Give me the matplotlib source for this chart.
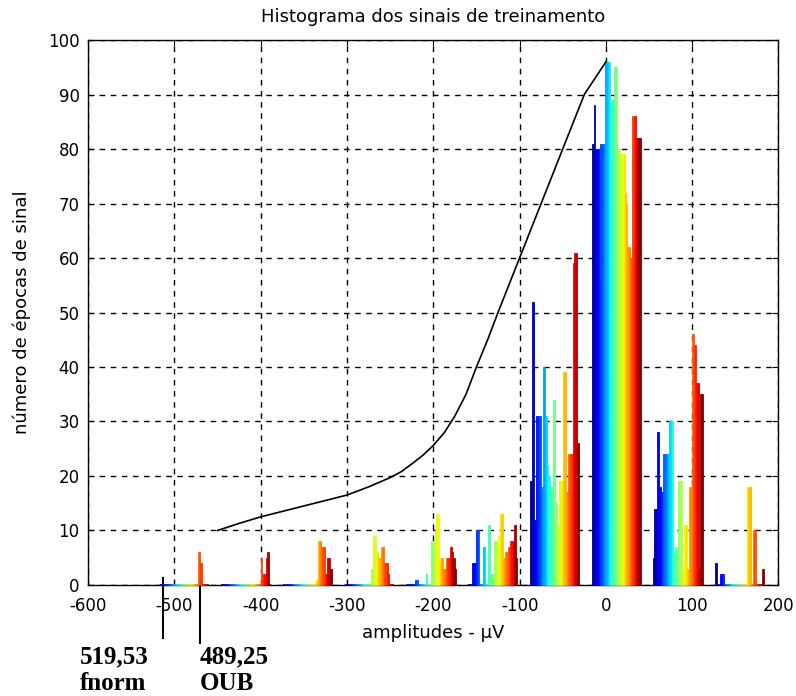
"""
Histograma dos sinais de treinamento
"""

import numpy as np
import matplotlib.pyplot as plt

# Bin centres (uV) of the grouped histogram
bin_centers = [-488.5, -417, -345.5, -274, -202.5, -131, -59.5, 12, 83.5, 155]

# Counts per signal (40 signals, jet colours) in each bin
h_m488 = [0, 0, 0, 0, 0, 0, 0, 0, 0, 0, 0, 0, 0, 0, 0, 0, 0, 0, 0, 0,
          0, 0, 0, 0, 0, 0, 0, 0, 0, 0, 0, 6, 6, 4, 0, 0, 0, 0, 0, 0]
h_m417 = [0, 0, 0, 0, 0, 0, 0, 0, 0, 0, 0, 0, 0, 0, 0, 0, 0, 0, 0, 0,
          0, 0, 0, 0, 0, 0, 0, 0, 0, 0, 0, 0, 5, 2, 2, 2, 5, 6, 6, 0]
h_m345 = [0, 0, 0, 0, 0, 0, 0, 0, 0, 0, 0, 0, 0, 0, 0, 0, 0, 0, 0, 0,
          0, 0, 0, 0, 0, 0, 0, 1, 8, 8, 8, 7, 7, 7, 2, 2, 5, 5, 3, 3]
h_m274 = [0, 0, 0, 0, 0, 0, 0, 0, 0, 0, 0, 0, 0, 0, 0, 0, 0, 0, 0, 0,
          0, 3, 3, 9, 9, 6, 6, 5, 5, 7, 7, 7, 4, 4, 4, 2, 0, 0, 0, 0]
h_m202 = [0, 0, 0, 0, 0, 0, 0, 1, 1, 0, 0, 0, 0, 0, 0, 0, 2, 0, 0, 0,
          8, 8, 6, 10, 13, 13, 5, 4, 5, 5, 3, 3, 5, 5, 5, 7, 7, 6, 5, 3]
h_m131 = [0, 0, 0, 4, 4, 4, 10, 10, 10, 0, 0, 0, 7, 7, 0, 0, 11, 11, 2, 2,
          2, 8, 8, 8, 9, 9, 13, 13, 5, 5, 6, 6, 7, 7, 8, 8, 8, 11, 11, 5]
h_m60 = [19, 19, 52, 12, 12, 31, 31, 31, 31, 18, 18, 40, 31, 31, 22, 20, 18, 18, 18, 34,
         15, 15, 11, 9, 19, 19, 19, 39, 39, 17, 17, 24, 24, 24, 24, 59, 61, 61, 26, 26]
h_12 = [81, 81, 88, 80, 80, 80, 56, 81, 81, 81, 81, 96, 96, 96, 96, 89, 89, 89, 95, 95,
        95, 80, 80, 79, 79, 79, 79, 72, 70, 62, 62, 60, 60, 86, 86, 86, 82, 82, 82, 82]
h_83 = [5, 14, 14, 28, 28, 18, 17, 17, 24, 24, 24, 24, 18, 30, 30, 30, 6, 6, 7, 7,
        19, 19, 19, 3, 3, 11, 11, 3, 3, 18, 18, 46, 46, 44, 44, 37, 37, 3, 35, 35]
h_155 = [4, 4, 0, 0, 2, 2, 2, 0, 0, 0, 0, 0, 0, 0, 0, 0, 0, 0, 0, 0,
         0, 0, 0, 0, 0, 0, 18, 18, 18, 0, 0, 10, 10, 0, 0, 0, 0, 0, 3, 3]
counts = [h_m488, h_m417, h_m345, h_m274, h_m202, h_m131, h_m60, h_12, h_83, h_155]

# Black curve
curve_x = [-450, -425, -400, -375, -350, -325, -300, -275, -250, -237, -225, -212,
           -200, -187, -175, -162, -150, -137, -125, -100, -75, -50, -25, 0]
curve_y = [10, 11.3, 12.5, 13.5, 14.5, 15.5, 16.5, 18, 19.7, 20.8, 22.2, 23.8,
           25.6, 28, 31, 35, 40, 45, 50, 60, 70, 80, 90, 96]

plt.rcParams['font.family'] = ['DejaVu Sans']
plt.rcParams['axes.unicode_minus'] = False

fig = plt.figure(figsize=(7.96, 6.96), dpi=100)
ax = fig.add_axes([0.1106, 0.1595, 0.8674, 0.783])

n_series = len(h_12)
spacing = bin_centers[1] - bin_centers[0]
bar_w = 0.8 * spacing / n_series
colors = plt.get_cmap('jet')(np.linspace(0, 1, n_series))
offsets = (np.arange(n_series) - (n_series - 1) / 2) * bar_w

for c, h in zip(bin_centers, counts):
    x = c + offsets
    ax.bar(x, h, width=bar_w, color=colors, edgecolor=colors,
           linewidth=0.6, zorder=3)
    # zero-height bars still show as a coloured stroke on the baseline
    ax.hlines(np.zeros(n_series), x - bar_w / 2, x + bar_w / 2, colors=colors,
              linewidth=1.2, zorder=4, clip_on=False)

ax.plot(curve_x, curve_y, color='black', linewidth=1.2, zorder=5)

ax.set_xlim(-600, 200)
ax.set_ylim(0, 100)
ax.set_xticks(range(-600, 201, 100))
ax.set_yticks(range(0, 101, 10))
ax.tick_params(direction='in', top=True, right=True, labelsize=12, length=4)
ax.tick_params(axis='x', pad=9)
ax.tick_params(axis='y', pad=6)
ax.grid(True, color='black', linestyle=(0, (4, 4)), linewidth=1.0)
ax.set_axisbelow(True)
for s in ax.spines.values():
    s.set_linewidth(1.0)

ax.set_title('Histograma dos sinais de treinamento', fontsize=13, pad=13)
ax.set_xlabel('amplitudes - µV', fontsize=13, labelpad=6)
ax.set_ylabel('número de épocas de sinal', fontsize=13, labelpad=12)

# Marks for the two detection thresholds below the axis
ax.plot([-513, -513], [1.3, -9.7], color='black', linewidth=1.5, clip_on=False)
ax.plot([-470, -470], [0.9, -10.6], color='black', linewidth=1.5, clip_on=False)

serif = dict(family=['Liberation Serif', 'DejaVu Serif'], weight='bold', fontsize=18, va='center')
fig.text(80 / 796, 1 - 657 / 696, '519,53', **serif)
fig.text(80 / 796, 1 - 684 / 696, 'fnorm', **serif)
fig.text(200 / 796, 1 - 657 / 696, '489,25', **serif)
fig.text(200 / 796, 1 - 684 / 696, 'OUB', **serif)

fig.savefig('out.png', dpi=100)
